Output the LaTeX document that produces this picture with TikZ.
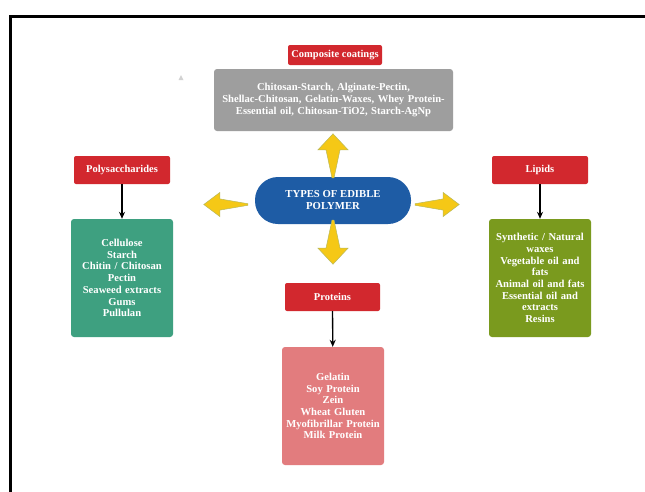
\documentclass[tikz,border=0pt]{standalone}
\usepackage{fontspec}
\setmainfont{Liberation Serif}
\usetikzlibrary{arrows.meta}
\definecolor{hdred}{RGB}{210,40,46}
\definecolor{boxgrey}{RGB}{158,158,158}
\definecolor{ctblue}{RGB}{30,92,165}
\definecolor{boxgreen}{RGB}{62,160,128}
\definecolor{boxolive}{RGB}{122,154,30}
\definecolor{boxpink}{RGB}{226,124,126}
\definecolor{dartyellow}{RGB}{245,200,22}
\definecolor{dartedge}{RGB}{185,185,90}
\tikzset{
  header/.style={fill=hdred, text=white, font=\bfseries\fontsize{10.5}{11}\selectfont, rounded corners=2pt, minimum width=95pt, minimum height=28pt, inner sep=0pt},
  content/.style={text=white, font=\bfseries\fontsize{10.6}{11.7}\selectfont, rounded corners=3pt, align=center, inner sep=0pt, minimum width=102pt, minimum height=118pt, text width=101pt},
  center/.style={fill=ctblue, text=white, font=\bfseries\fontsize{10.7}{12}\selectfont, align=center, rounded corners=23pt, minimum width=156pt, minimum height=47pt, inner sep=0pt},
  link/.style={-{Stealth[length=7pt,width=6pt]}, line width=1.3pt, black},
  dart/.pic={\filldraw[fill=dartyellow, draw=dartedge, line width=0.5pt] (0,-1) -- (28,-7) -- (28,-15) -- (44,0) -- (28,15) -- (28,7) -- (0,1) -- cycle;}
}
\begin{document}
\begin{tikzpicture}[x=1pt,y=-1pt]
\useasboundingbox (0,0) rectangle (645,491);
\fill[white] (0,0) rectangle (645,491);
\draw[line width=3pt] (10,495) -- (10,16) -- (650,16);
\fill[gray!35] (178.5,80) -- (181,75) -- (183.5,80) -- cycle;

\node[center] (ctr) at (333,200.5) {TYPES OF EDIBLE\\POLYMER};

\node[header, minimum width=94pt, minimum height=20pt] (hcomp) at (335,55) {Composite coatings};
\node[content, fill=boxgrey, minimum width=239pt, minimum height=62pt, text width=237pt] (comp) at (333.5,100) {Chitosan-Starch, Alginate-Pectin,\\Shellac-Chitosan, Gelatin-Waxes, Whey Protein-\\Essential oil, Chitosan-TiO2, Starch-AgNp};

\node[header, minimum width=96pt] (hpoly) at (122,170) {Polysaccharides};
\node[content, fill=boxgreen] (poly) at (122,278) {Cellulose\\Starch\\Chitin / Chitosan\\Pectin\\Seaweed extracts\\Gums\\Pullulan};

\node[header, minimum width=96pt] (hlip) at (540,170) {Lipids};
\node[content, fill=boxolive] (lip) at (540,278) {Synthetic / Natural\\waxes\\Vegetable oil and\\fats\\Animal oil and fats\\Essential oil and\\extracts\\Resins};

\node[header, minimum width=95pt] (hprot) at (332.5,297) {Proteins};
\node[content, fill=boxpink] (prot) at (333,406) {Gelatin\\Soy Protein\\Zein\\Wheat Gluten\\Myofibrillar Protein\\Milk Protein};

\draw[link] (hpoly) -- (poly);
\draw[link] (hlip) -- (lip);
\draw[link] (hprot) -- (prot);

\coordinate (dup) at ([yshift=-1pt]ctr.north);
\coordinate (ddown) at ([yshift=4pt]ctr.south);
\coordinate (dleft) at ([xshift=-7pt,yshift=-4pt]ctr.west);
\coordinate (dright) at ([xshift=4pt,yshift=-4pt]ctr.east);
\pic[rotate=90] at (dup) {dart};
\pic[rotate=-90] at (ddown) {dart};
\pic[rotate=180, yscale=0.8] at (dleft) {dart};
\pic[rotate=0, yscale=0.8] at (dright) {dart};
\end{tikzpicture}
\end{document}
